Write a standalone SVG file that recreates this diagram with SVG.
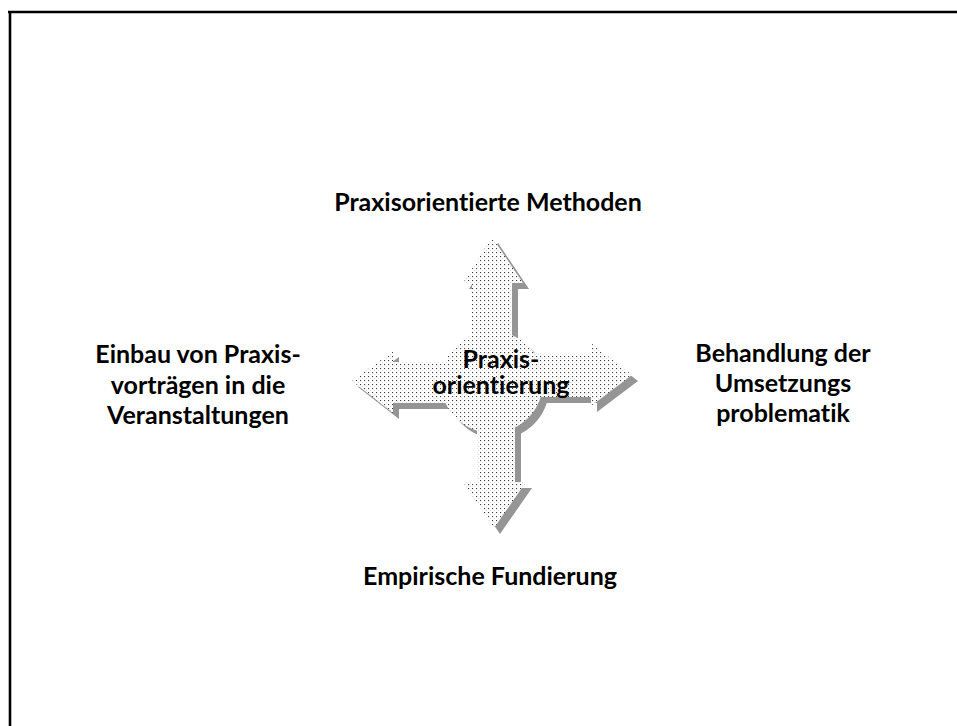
<svg xmlns="http://www.w3.org/2000/svg" xmlns:xlink="http://www.w3.org/1999/xlink" width="957" height="726" viewBox="0 0 957 726">
<style>
.lbl{font-family:Lato,"Liberation Sans",sans-serif;font-weight:700;font-size:25px;fill:#000;text-anchor:middle;font-variant-ligatures:none}
.shadow{fill:#959595}
.body{fill:url(#dots)}
.frame{stroke:#000;stroke-width:2.6;fill:none}
</style>
<defs>
<pattern id="dots" width="4" height="4" patternUnits="userSpaceOnUse">
<rect width="4" height="4" fill="#fff"/>
<rect x="0" y="0" width="1.1" height="1.1" fill="#3c3c3c"/>
<rect x="2" y="2" width="1" height="1" fill="#dcdcdc"/>
</pattern>
<polygon id="shUp" points="492,237 523,283 512,283 512,382 472,382 472,283 463,283"/>
<polygon id="shRight" points="632,375 591,406 591,397 492,397 492,353 591,353 591,343"/>
<polygon id="shDown" points="494,528 526,482 515,482 515,382 477,382 477,482 463,482"/>
<polygon id="shLeft" points="352,381 393,351 393,362 492,362 492,403 393,403 393,413"/>
<circle id="shCircle" cx="492" cy="382" r="51"/>
</defs>
<path class="frame" d="M8 12 H957 M10 11 V726"/>
<g id="connectors">
<g id="shadows" class="shadow" transform="translate(6,6)">
<use xlink:href="#shUp"/>
<use xlink:href="#shRight"/>
<use xlink:href="#shDown"/>
<use xlink:href="#shLeft"/>
<use xlink:href="#shCircle"/>
</g>
<g id="arrow-up" class="body"><use xlink:href="#shUp"/></g>
<g id="arrow-right" class="body"><use xlink:href="#shRight"/></g>
<g id="arrow-down" class="body"><use xlink:href="#shDown"/></g>
<g id="arrow-left" class="body"><use xlink:href="#shLeft"/></g>
</g>
<g id="center">
<use class="body" xlink:href="#shCircle"/>
<text class="lbl" x="501" y="367.5">Praxis-</text>
<text class="lbl" x="501" y="394">orientierung</text>
</g>
<g id="top"><text class="lbl" x="488" y="211">Praxisorientierte Methoden</text></g>
<g id="left">
<text class="lbl" x="198" y="363">Einbau von Praxis-</text>
<text class="lbl" x="198" y="393.5">vorträgen in die</text>
<text class="lbl" x="198" y="424">Veranstaltungen</text>
</g>
<g id="right">
<text class="lbl" x="783" y="362">Behandlung der</text>
<text class="lbl" x="783" y="392">Umsetzungs</text>
<text class="lbl" x="783" y="421.5">problematik</text>
</g>
<g id="bottom"><text class="lbl" x="490" y="585">Empirische Fundierung</text></g>
</svg>
